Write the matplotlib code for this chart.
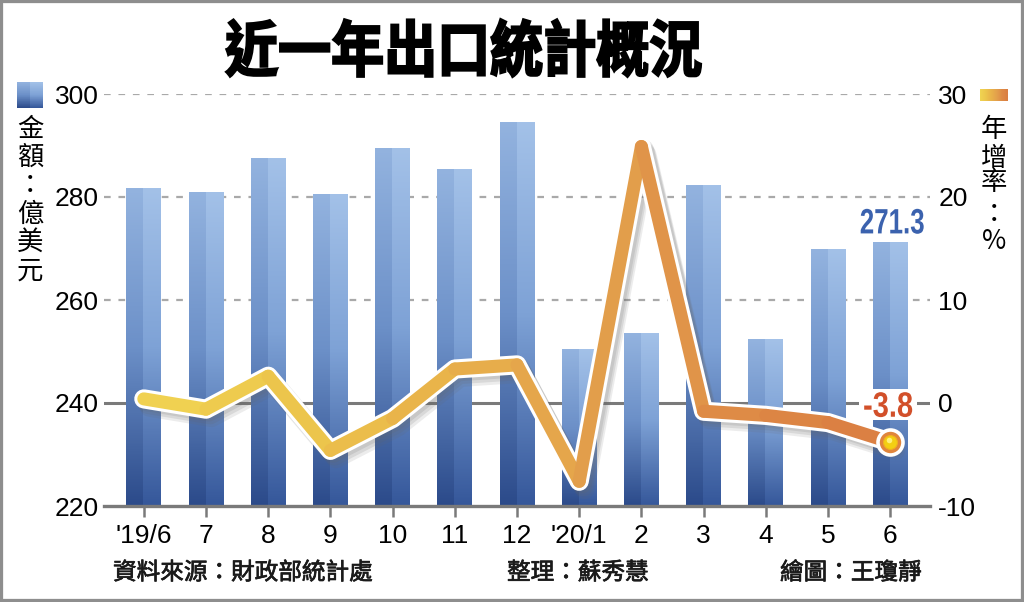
import numpy as np
import matplotlib
matplotlib.use("Agg")
import matplotlib.pyplot as plt
from matplotlib.collections import LineCollection
from matplotlib.colors import LinearSegmentedColormap, to_rgb
from matplotlib.patches import Rectangle, PathPatch
from matplotlib.textpath import TextPath
from matplotlib.font_manager import FontProperties
from matplotlib.transforms import Affine2D
import matplotlib.patheffects as pe

# ---------------- data ----------------
months = ["'19/6", "7", "8", "9", "10", "11", "12", "'20/1", "2", "3", "4", "5", "6"]
export_value = [281.7, 281.0, 287.5, 280.6, 289.6, 285.4, 294.6, 250.4, 253.5, 282.3, 252.4, 269.9, 271.3]
yoy_growth = [0.4, -0.6, 2.6, -4.6, -1.5, 3.3, 3.7, -7.6, 24.9, -0.8, -1.2, -1.9, -3.8]
left_ticks = [220, 240, 260, 280, 300]
right_ticks = [-10, 0, 10, 20, 30]
right_tick_labels = ["-10", "0", "10", "20", "30"]
title = "近一年出口統計概況"
left_label = "金額：億美元"
right_label = "年增率：%"
footers = ["資料來源：財政部統計處", "整理：蘇秀慧", "繪圖：王瓊靜"]
value_label = "271.3"
growth_label = "-3.8"

CJK = ["Noto Sans CJK TC", "DejaVu Sans"]
NUM = ["Liberation Sans", "DejaVu Sans"]

W, H = 1024, 602
fig = plt.figure(figsize=(W / 100, H / 100), dpi=100)
fig.patch.set_facecolor("white")

ax = fig.add_axes([104 / W, 96 / H, 826 / W, 412 / H])
xs = np.arange(len(months))


def fitted_text(s, cx, cy, w, h, prop, color, zorder, box_pad=None, edge=0.0):
    """Draw text s as a path filling a w x h pixel box centred at display (cx, cy)."""
    tp = TextPath((0, 0), s, size=100, prop=prop)
    ext = tp.get_extents()
    sx, sy = w / ext.width, h / ext.height
    tr = (Affine2D().translate(-ext.x0 - ext.width / 2, -ext.y0 - ext.height / 2)
          .scale(sx, sy).translate(cx, cy))
    if box_pad is not None:
        px, py = box_pad
        r = Rectangle((cx - w / 2 - px, cy - h / 2 - py), w + 2 * px, h + 2 * py,
                      transform=Affine2D(), fc="white", ec="none", zorder=zorder - 0.5)
        fig.add_artist(r)
    patch = PathPatch(tp, transform=tr, fc=color, ec=color if edge else "none",
                      lw=edge, zorder=zorder)
    fig.add_artist(patch)


# ---------------- bars with gradient ----------------
bars = ax.bar(xs, np.array(export_value) - 220, bottom=220, width=0.56,
              color="none", edgecolor="none", zorder=2)


def vgrad(top_l, mid_l, bot_l, top_r, mid_r, bot_r, n=256):
    t = np.linspace(0, 1, n)[:, None]

    def col(top, mid, bot):
        top, mid, bot = (np.array(to_rgb(c)) for c in (top, mid, bot))
        return np.where(t < 0.5, top + (mid - top) * (t / 0.5),
                        mid + (bot - mid) * ((t - 0.5) / 0.5))
    return np.stack([col(top_l, mid_l, bot_l), col(top_r, mid_r, bot_r)], axis=1)


bar_img = vgrad("#93b3df", "#6c90c8", "#2b4a8a", "#a3c1e8", "#7ea2d6", "#35579a")
for b in bars:
    x0, y0, w, h = b.get_x(), b.get_y(), b.get_width(), b.get_height()
    im = ax.imshow(bar_img, extent=[x0, x0 + w, y0, y0 + h], aspect="auto",
                   origin="upper", interpolation="nearest", zorder=2)
    im.set_clip_path(b)

ax.set_xlim(-0.64, 12.64)
ax.set_ylim(220, 300)

# grid lines
for v in left_ticks[2:]:
    ax.axhline(v, color="#a9a9a9", lw=1.6, ls=(0, (3, 3.5)), zorder=1)
ax.axhline(240, color="#7a7a7a", lw=2.2, zorder=1)
ax.axhline(220, color="#7a7a7a", lw=2.4, zorder=5, clip_on=False)

for s in ax.spines.values():
    s.set_visible(False)
ax.set_xticks(xs, months)
ax.set_yticks(left_ticks, [str(v) for v in left_ticks])
ax.tick_params(axis="x", length=8, width=1.8, color="#7a7a7a", pad=5,
               labelsize=19, labelcolor="black")
ax.tick_params(axis="y", length=0, pad=4, labelsize=19, labelcolor="black")
for lab in ax.get_xticklabels() + ax.get_yticklabels():
    lab.set_family(NUM)

# ---------------- line on twin axis ----------------
ax2 = ax.twinx()
ax2.set_ylim(-10, 30)
for s in ax2.spines.values():
    s.set_visible(False)
ax2.set_yticks(right_ticks, right_tick_labels)
ax2.tick_params(axis="y", length=0, pad=6, labelsize=19, labelcolor="black")
for lab in ax2.get_yticklabels():
    lab.set_family(NUM)

yv = np.array(yoy_growth)
ax2.plot(xs, yv, color="white", lw=13.8, solid_joinstyle="round",
         solid_capstyle="round", zorder=3,
         path_effects=[pe.SimpleLineShadow(offset=(4, -6), shadow_color="#666666", alpha=0.12),
                       pe.SimpleLineShadow(offset=(3, -4), shadow_color="#666666", alpha=0.15),
                       pe.SimpleLineShadow(offset=(2, -2), shadow_color="#666666", alpha=0.15),
                       pe.Normal()])

line_cmap = LinearSegmentedColormap.from_list(
    "yo", ["#f1d452", "#ecc64c", "#e9b24a", "#e3a14c", "#de8a46", "#da7e42"])
segs = np.stack([np.column_stack([xs[:-1], yv[:-1]]),
                 np.column_stack([xs[1:], yv[1:]])], axis=1)
mids = (xs[:-1] + xs[1:]) / 2 / xs[-1]
lc = LineCollection(segs, colors=line_cmap(mids), linewidths=9.4,
                    capstyle="round", joinstyle="round", zorder=4)
ax2.add_collection(lc)

# end marker
ax2.plot(xs[-1], yv[-1], "o", ms=18, mfc="#e0853c", mec="white", mew=2.6, zorder=6)
ax2.plot(xs[-1], yv[-1], "o", ms=10, mfc="#f3cf12", mec="#f0b020", mew=0.8, zorder=7)
ax2.plot(xs[-1] - 0.02, yv[-1] + 0.2, "o", ms=4, mfc="#fff07a", mec="none", zorder=8)

ax.set_zorder(1)
ax2.set_zorder(2)
ax2.patch.set_visible(False)

# data labels (narrow bold numerals anchored on the data points)
num_prop = FontProperties(family="Liberation Sans", weight="bold")
bx, by = ax.transData.transform((xs[-1], export_value[-1]))
fitted_text(value_label, bx + 2, by + 20.5, 63, 25, num_prop, "#3b62ae", 9)
gx, gy = ax2.transData.transform((xs[-1], yv[-1]))
fitted_text(growth_label, gx - 2, gy + 37.5, 48, 25, num_prop, "#d2502a", 9,
            box_pad=(5, 3))

# ---------------- title and texts ----------------
title_prop = FontProperties(family="Noto Sans CJK TC", weight="black")
fitted_text(title, (225 + 702) / 2, H - 48, 475, 58, title_prop, "black", 9, edge=1.6)

left_y = [129, 157.5, 185, 214, 242.5, 271.5]
for ch, y in zip(left_label, left_y):
    fig.text(30 / W, 1 - y / H, ch, ha="center", va="center", fontsize=19,
             family=CJK, color="black")
right_y = [129.5, 158, 183, 214, 241.5]
for ch, y in zip(right_label, right_y):
    fig.text(994 / W, 1 - y / H, ch, ha="center", va="center", fontsize=19,
             family=CJK, color="black")

footer_x = [113, 507, 780]
for txt, x in zip(footers, footer_x):
    fig.text(x / W, 1 - 573 / H, txt, ha="left", va="center", fontsize=17,
             family=CJK, color="#1a1a1a",
             path_effects=[pe.withStroke(linewidth=0.5, foreground="#1a1a1a")])

# legend swatches
sw1 = fig.add_axes([17 / W, 1 - 108 / H, 26 / W, 26 / H])
sw1.imshow(vgrad("#93b3df", "#6c90c8", "#2b4a8a", "#a3c1e8", "#7ea2d6", "#35579a", 64),
           aspect="auto", interpolation="nearest")
sw1.axis("off")
sw2 = fig.add_axes([980 / W, 1 - 101 / H, 28 / W, 12 / H])
hg = line_cmap(np.linspace(0, 1, 64))[None, :, :3]
sw2.imshow(hg, aspect="auto", interpolation="bilinear")
sw2.axis("off")

# frame
fig.patches.append(Rectangle((0, 0), 1, 1, transform=fig.transFigure, fill=False,
                             edgecolor="#8e8e8e", lw=4.5, zorder=10))

fig.savefig("out.png", dpi=100, facecolor="white")
